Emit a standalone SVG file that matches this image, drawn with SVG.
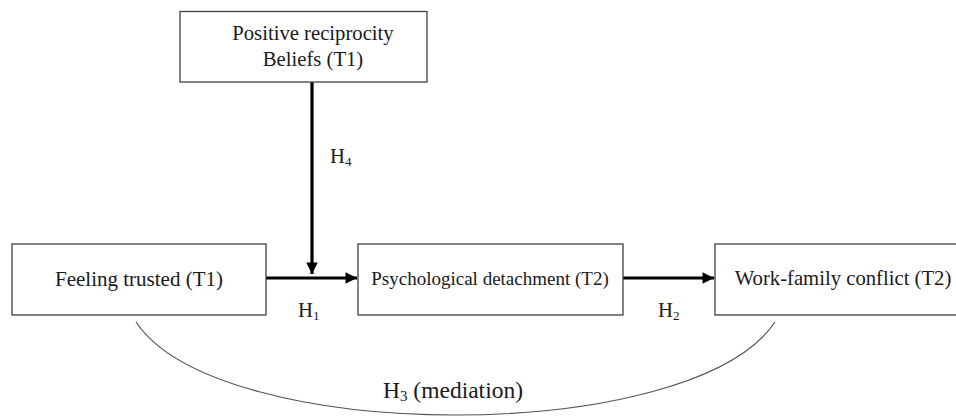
<svg xmlns="http://www.w3.org/2000/svg" width="956" height="416" viewBox="0 0 956 416">
<style>
text{font-family:'Liberation Serif','Times New Roman','DejaVu Serif',serif;fill:#1a1a1a;font-size:20.7px}
.box{fill:#fff;stroke:#404040;stroke-width:1.3}
.t{text-anchor:middle}
.arr{stroke:#000;stroke-width:3.2;fill:none}
.sub{font-size:13px}
</style>
<defs>
<marker id="ah" viewBox="0 0 10 10" refX="10" refY="5" markerWidth="4" markerHeight="3.6" orient="auto" markerUnits="strokeWidth">
<path d="M0,0 L10,5 L0,10 z" fill="#000"/>
</marker>
</defs>
<rect width="956" height="416" fill="#fff"/>
<g id="connectors">
<line class="arr" x1="312" y1="82" x2="312" y2="274" marker-end="url(#ah)"/>
<line class="arr" x1="266" y1="278" x2="357" y2="278" marker-end="url(#ah)"/>
<line class="arr" x1="623" y1="278" x2="714" y2="278" marker-end="url(#ah)"/>
<path d="M136,322 C219,446 692,446 775,322" fill="none" stroke="#555" stroke-width="1.2"/>
<text x="330" y="163">H<tspan class="sub" dy="3">4</tspan></text>
<text x="298" y="317">H<tspan class="sub" dy="3">1</tspan></text>
<text x="658" y="317">H<tspan class="sub" dy="3">2</tspan></text>
<text x="383" y="398" style="font-size:23.5px">H<tspan dy="3" style="font-size:15px">3</tspan><tspan dy="-3"> (mediation)</tspan></text>
</g>
<g id="node-beliefs">
<rect class="box" x="180" y="11.5" width="247" height="70.5"/>
<text class="t" x="313" y="40">Positive reciprocity</text>
<text class="t" x="313" y="66">Beliefs (T1)</text>
</g>
<g id="node-trusted">
<rect class="box" x="12" y="244" width="254" height="71"/>
<text class="t" x="139" y="286" style="font-size:21px">Feeling trusted (T1)</text>
</g>
<g id="node-detachment">
<rect class="box" x="358" y="244" width="265" height="71"/>
<text class="t" x="490" y="285" style="font-size:19px">Psychological detachment (T2)</text>
</g>
<g id="node-wfc">
<rect class="box" x="715" y="244" width="260" height="71"/>
<text class="t" x="843" y="285">Work-family conflict (T2)</text>
</g>
</svg>
